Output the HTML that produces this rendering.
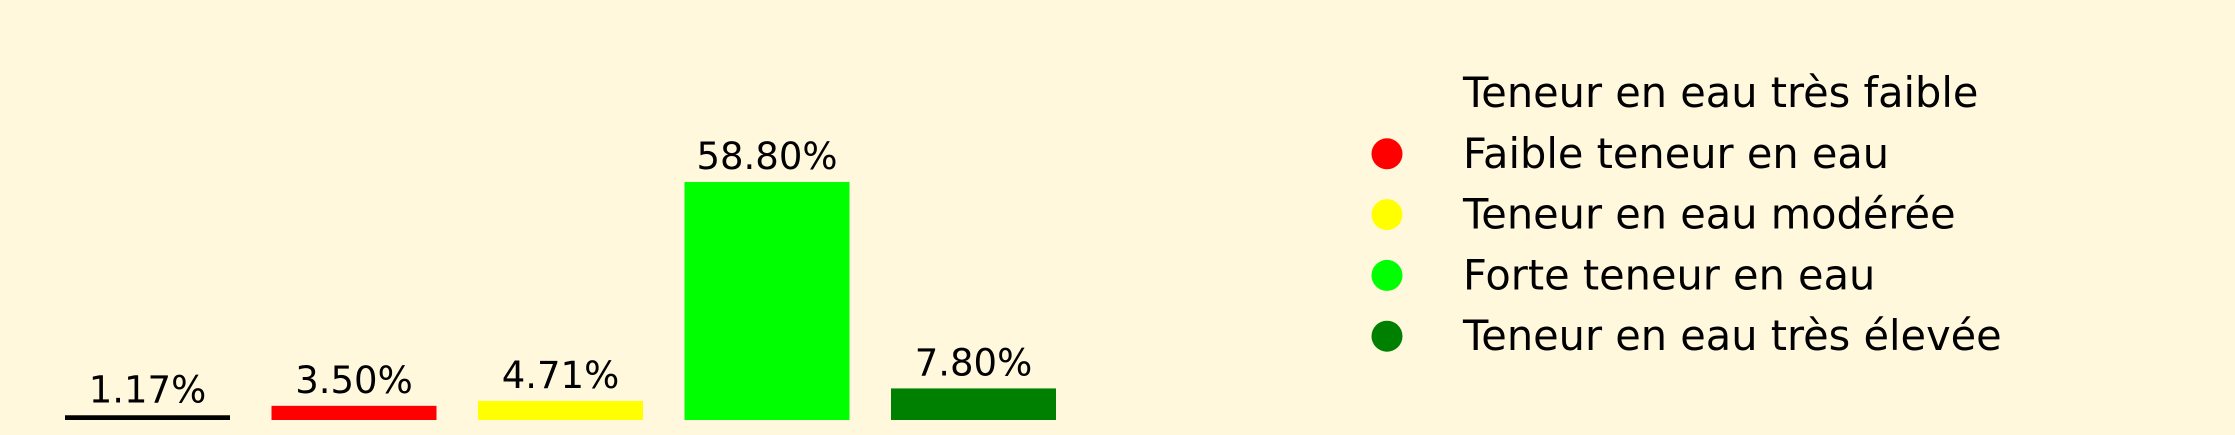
<!DOCTYPE html>
<html><head><meta charset="utf-8"><style>
html,body{margin:0;padding:0;background:#fff8dc;}
svg{display:block;}
text{font-family:"DejaVu Sans","Liberation Sans",sans-serif;font-size:37px;fill:#000;}
text.leg{font-size:41.5px;}
</style></head><body>
<svg id="chart" width="2235" height="435" viewBox="0 0 2235 435">
<rect width="2235" height="435" fill="#fff8dc"/>
<g id="bars"></g>
<g id="legend"></g>
</svg>
<script>
const categories = ["Teneur en eau très faible","Faible teneur en eau","Teneur en eau modérée","Forte teneur en eau","Teneur en eau très élevée"];
const values = [1.17, 3.50, 4.71, 58.80, 7.80];
const colors = ["#000000","#ff0000","#ffff00","#00ff00","#008000"];
const legendMarkerColors = ["#fff8dc","#ff0000","#ffff00","#00ff00","#008000"];
const NS="http://www.w3.org/2000/svg";
const baseY=420, pxPerUnit=238/58.8;
const x0=65, step=206.5, bw=165;
function xPos(i){return x0+i*step;}
function yPos(v){return baseY-v*pxPerUnit;}
const gb=document.getElementById('bars');
values.forEach((v,i)=>{
  const r=document.createElementNS(NS,'rect');
  r.setAttribute('x',xPos(i));r.setAttribute('y',yPos(v));
  r.setAttribute('width',bw);r.setAttribute('height',baseY-yPos(v));
  r.setAttribute('fill',colors[i]);
  
  
  gb.appendChild(r);
  const t=document.createElementNS(NS,'text');
  t.setAttribute('x',xPos(i)+bw/2);t.setAttribute('y',yPos(v)-13);
  t.setAttribute('text-anchor','middle');
  t.textContent=v.toFixed(2)+'%';
  
  
  gb.appendChild(t);
});
const gl=document.getElementById('legend');
categories.forEach((c,i)=>{
  const cy=93+i*60.8;
  const m=document.createElementNS(NS,'circle');
  m.setAttribute('cx',1387);m.setAttribute('cy',cy);m.setAttribute('r',15.5);
  m.setAttribute('fill',legendMarkerColors[i]);
  
  
  gl.appendChild(m);
  const t=document.createElementNS(NS,'text');
  t.setAttribute('x',1463);t.setAttribute('y',cy+14);
  t.setAttribute('class','leg');
  t.textContent=c;
  
  
  gl.appendChild(t);
});
</script>
</body></html>
